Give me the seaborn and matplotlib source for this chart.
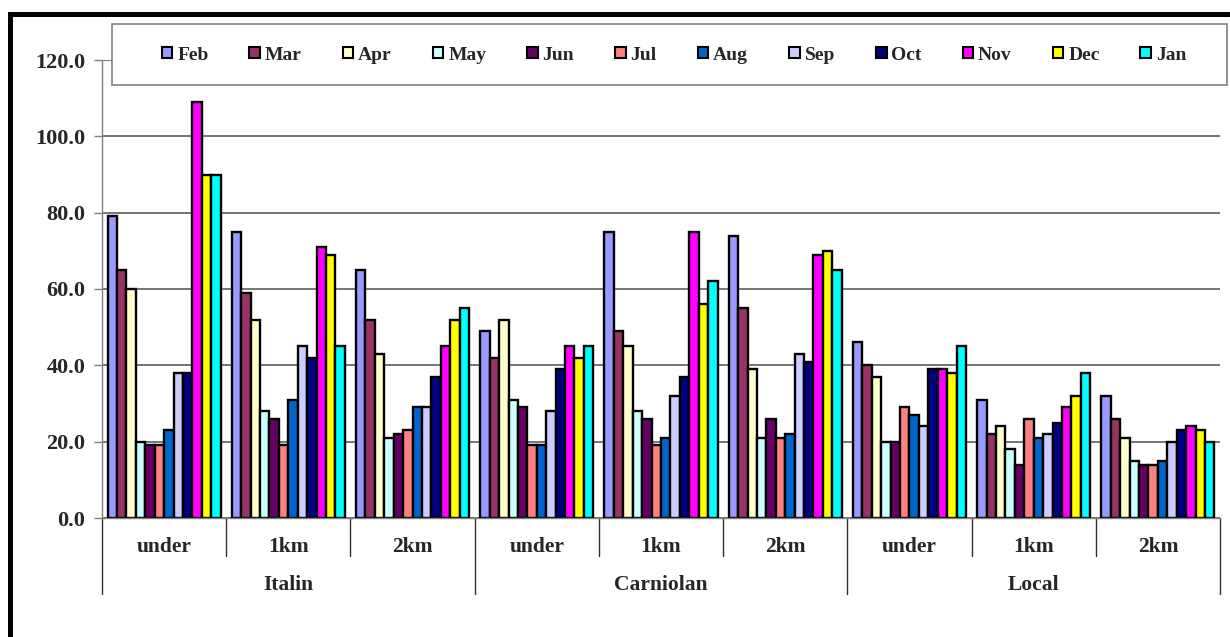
import matplotlib
matplotlib.use("Agg")
import matplotlib.pyplot as plt
import matplotlib.patches as mpatches
import matplotlib.transforms as mtransforms
import numpy as np
import pandas as pd
import seaborn as sns

# Categories
breeds = ["Italin", "Carniolan", "Local"]
distances = ["under", "1km", "2km"]
months = ["Feb", "Mar", "Apr", "May", "Jun", "Jul",
          "Aug", "Sep", "Oct", "Nov", "Dec", "Jan"]

# Values per month, ordered Italin(under,1km,2km), Carniolan(...), Local(...)
feb = [79, 75, 65, 49, 75, 74, 46, 31, 32]
mar = [65, 59, 52, 42, 49, 55, 40, 22, 26]
apr = [60, 52, 43, 52, 45, 39, 37, 24, 21]
may = [20, 28, 21, 31, 28, 21, 20, 18, 15]
jun = [19, 26, 22, 29, 26, 26, 20, 14, 14]
jul = [19, 19, 23, 19, 19, 21, 29, 26, 14]
aug = [23, 31, 29, 19, 21, 22, 27, 21, 15]
sep = [38, 45, 29, 28, 32, 43, 24, 22, 20]
oct_ = [38, 42, 37, 39, 37, 41, 39, 25, 23]
nov = [109, 71, 45, 45, 75, 69, 39, 29, 24]
dec = [90, 69, 52, 42, 56, 70, 38, 32, 23]
jan = [90, 45, 55, 45, 62, 65, 45, 38, 20]

y_ticks = [0, 20, 40, 60, 80, 100, 120]

palette = ["#9999FF", "#993366", "#FFFFCC", "#CCFFFF", "#660066", "#FF8080",
           "#0066CC", "#CCCCFF", "#000080", "#FF00FF", "#FFFF00", "#00FFFF"]

series = [feb, mar, apr, may, jun, jul, aug, sep, oct_, nov, dec, jan]
groups = [f"{b}|{d}" for b in breeds for d in distances]

rows = []
for m, vals in zip(months, series):
    for g, v in zip(groups, vals):
        rows.append({"group": g, "month": m, "value": v})
df = pd.DataFrame(rows)

sns.set_style("white")
plt.rcParams["font.family"] = ["Liberation Serif", "DejaVu Serif"]
plt.rcParams["font.weight"] = "bold"

W, H = 1230, 637
fig = plt.figure(figsize=(W / 100, H / 100), dpi=100)
ax_l, ax_r, ax_t, ax_b = 102, 1220, 60, 518
ax = fig.add_axes([ax_l / W, 1 - ax_b / H, (ax_r - ax_l) / W, (ax_b - ax_t) / H])

sns.barplot(data=df, x="group", y="value", hue="month", order=groups,
            hue_order=months, palette=palette, width=0.91, gap=0,
            edgecolor="black", linewidth=1.7, legend=False, ax=ax,
            errorbar=None, saturation=1)

ax.set_xlim(-0.5, len(groups) - 0.5)
ax.set_ylim(0, 120)
ax.set_yticks(y_ticks)
ax.set_yticklabels([f"{t:.1f}" for t in y_ticks], fontsize=16, fontweight="bold")
ax.yaxis.grid(True, color="#505050", linewidth=1.1)
ax.set_axisbelow(True)
ax.tick_params(axis="y", direction="out", length=6, width=1, color="#808080",
               pad=6, left=True)
ax.set_xticks([])
ax.set_xlabel("")
ax.set_ylabel("")
for s in ["top", "right"]:
    ax.spines[s].set_visible(False)
ax.spines["left"].set_color("#808080")
ax.spines["bottom"].set_color("#808080")
ax.spines["left"].set_linewidth(1)
ax.spines["bottom"].set_linewidth(1)

# Two-level category axis
trans = mtransforms.blended_transform_factory(ax.transData, ax.transAxes)
axh = ax_b - ax_t
sub_line = -(556 - ax_b) / axh
main_line = -(594 - ax_b) / axh
sub_txt = -(547 - ax_b) / axh
main_txt = -(585 - ax_b) / axh

for i in range(len(groups) + 1):
    xb = i - 0.5
    ybot = main_line if i % 3 == 0 else sub_line
    ax.plot([xb, xb], [0, ybot], transform=trans, color="#303030",
            linewidth=1, clip_on=False)
for i, g in enumerate(groups):
    ax.text(i, sub_txt, g.split("|")[1], transform=trans, ha="center",
            va="center", fontsize=15.5, fontweight="bold")
for j, b in enumerate(breeds):
    ax.text(3 * j + 1, main_txt, b, transform=trans, ha="center",
            va="center", fontsize=15.5, fontweight="bold")

# Legend box
lx0, ly0, lx1, ly1 = 112, 24, 1227, 85
fig.add_artist(mpatches.Rectangle((lx0 / W, 1 - ly1 / H), (lx1 - lx0) / W,
                                  (ly1 - ly0) / H, transform=fig.transFigure,
                                  facecolor="white", edgecolor="#808080",
                                  linewidth=1.2, zorder=5))
handles = [mpatches.Patch(facecolor=c, edgecolor="black", linewidth=1.5, label=m)
           for m, c in zip(months, palette)]
leg = fig.legend(handles=handles, loc="center", ncol=12,
                 bbox_to_anchor=(674 / W, 1 - 55 / H), frameon=False,
                 prop={"size": 14, "weight": "bold"}, handlelength=0.55,
                 handleheight=0.55, handletextpad=0.25, columnspacing=2.1)
leg.set_zorder(6)

# Outer chart frame
fig.add_artist(mpatches.Rectangle((10 / W, -0.2), 1.3, 1.2 - 14 / H,
                                  transform=fig.transFigure, fill=False,
                                  edgecolor="black", linewidth=3.6, zorder=7))

fig.savefig("out.png", dpi=100)
